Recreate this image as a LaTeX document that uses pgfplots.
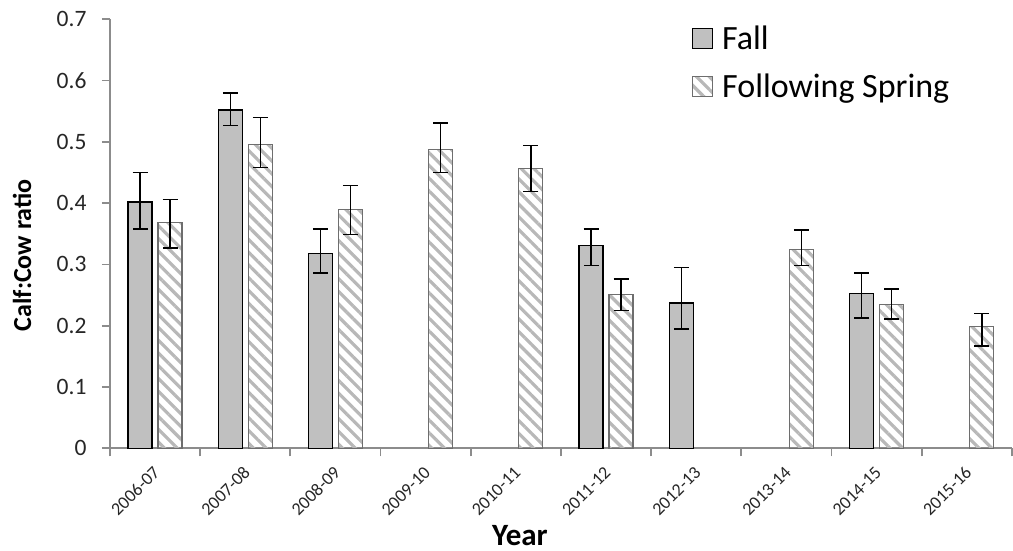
\documentclass[border=0pt]{standalone}
\usepackage{pgfplots}
\pgfplotsset{compat=1.18}
\usepackage{pgfplotstable}
\usepackage{fontspec}
\setmainfont{Carlito}
\usetikzlibrary{patterns.meta}

\definecolor{fallgray}{HTML}{C0C0C0}
\definecolor{axisgray}{HTML}{8C8C8C}
\definecolor{hatchgray}{HTML}{B8B8B8}
\definecolor{hatchedge}{HTML}{6E6E6E}
\definecolor{textdark}{HTML}{262626}

% x = season index (0 = 2006-07) offset to the bar's side of the pair,
% y = ratio, ep/em = upper/lower error
\pgfplotstableread{
x y ep em
-0.1663 0.402 0.048 0.044
0.8337 0.552 0.028 0.025
1.8337 0.318 0.040 0.032
4.8337 0.331 0.027 0.033
5.8337 0.237 0.058 0.042
7.8337 0.253 0.033 0.040
}\fall

\pgfplotstableread{
x y ep em
0.1663 0.369 0.037 0.042
1.1663 0.496 0.044 0.038
2.1663 0.389 0.040 0.040
3.1663 0.488 0.043 0.038
4.1663 0.456 0.038 0.037
5.1663 0.251 0.025 0.026
7.1663 0.325 0.031 0.027
8.1663 0.235 0.025 0.024
9.1663 0.199 0.021 0.032
}\spring

\begin{document}
\begin{tikzpicture}
\path[use as bounding box] (-110pt,-102.7pt) rectangle (903pt,448.3pt);
\begin{axis}[
  scale only axis,
  width=902pt, height=429pt,
  xmin=-0.5, xmax=9.5,
  ymin=0, ymax=0.7,
  axis x line*=bottom, axis y line*=left,
  axis line style={draw=axisgray, line width=1.8pt},
  tick align=outside,
  major tick length=8pt,
  every tick/.style={draw=axisgray, line width=1.8pt},
  xtick={-0.5,0.5,1.5,2.5,3.5,4.5,5.5,6.5,7.5,8.5,9.5},
  xticklabels={},
  extra x ticks={0,1,2,3,4,5,6,7,8,9},
  extra x tick labels={2006-07,2007-08,2008-09,2009-10,2010-11,2011-12,2012-13,2013-14,2014-15,2015-16},
  extra x tick style={major tick length=0pt,
    xticklabel style={font=\fontsize{18}{21}\selectfont, text=textdark, xshift=4pt, yshift=-19pt, rotate=45, anchor=east}},
  ytick={0,0.1,0.2,0.3,0.4,0.5,0.6,0.7},
  yticklabel style={font=\fontsize{23.5}{27}\selectfont, text=textdark, xshift=-12pt},
  yticklabel={\pgfmathprintnumber[fixed, precision=1, assume math mode=true]{\tick}},
  ylabel={Calf:Cow ratio},
  ylabel style={font=\bfseries\fontsize{26}{30}\selectfont, text=black, at={(axis description cs:-0.0976,0.45)}, anchor=center},
  xlabel={Year},
  xlabel style={font=\bfseries\fontsize{31}{36}\selectfont, text=black, inner sep=0pt, at={(axis description cs:0.4545,0)}, yshift=-87pt, anchor=center},
  legend style={at={(0.645,0.985)}, anchor=north west, draw=none, fill=none,
    font=\fontsize{34}{40}\selectfont, text=black, row sep=23pt, inner sep=0pt,
    nodes={inner xsep=9pt, inner ysep=0pt}},
  legend cell align=left,
  legend image code/.code={\draw[#1] (0pt,-10pt) rectangle (20pt,10pt);},
  error bars/y dir=both,
  error bars/y explicit,
  error bars/error bar style={black, line width=1.5pt},
  error bars/error mark options={black, rotate=90, mark size=7.5pt, line width=1.5pt},
]
\addplot+[ybar, bar width=24pt, bar shift=0pt, draw=black, line width=1.2pt, fill=fallgray, mark=none]
  table[x=x, y=y, y error plus=ep, y error minus=em]{\fall};
\addlegendentry{Fall}
\addplot+[ybar, bar width=24pt, bar shift=0pt, draw=hatchedge, line width=1.2pt, mark=none,
  pattern={Lines[angle=-45, distance=9pt, line width=3.2pt]}, pattern color=hatchgray]
  table[x=x, y=y, y error plus=ep, y error minus=em]{\spring};
\addlegendentry{Following Spring}
\end{axis}
\end{tikzpicture}
\end{document}
